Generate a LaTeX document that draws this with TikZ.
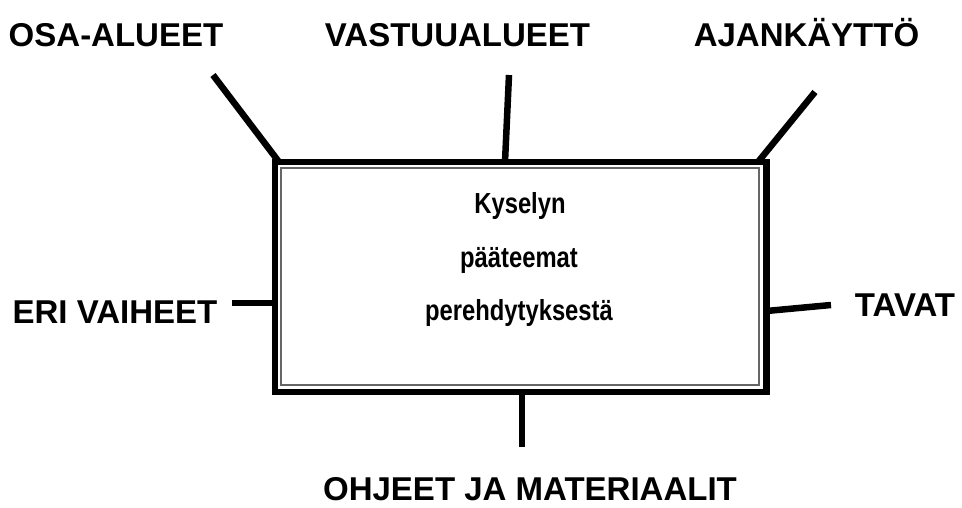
\documentclass[tikz,border=0pt]{standalone}
\usepackage{graphicx}
\usepackage{fontspec}
\setmainfont{Liberation Sans}
\newcommand{\narrowtxt}[1]{\scalebox{0.82}[1]{#1}}
\begin{document}
\begin{tikzpicture}[x=1pt,y=1pt,
  lbl/.style={anchor=base,inner sep=0pt,font=\bfseries\fontsize{33}{33}\selectfont},
  ctr/.style={anchor=base,inner sep=0pt,font=\bfseries\fontsize{29}{29}\selectfont},
  conn/.style={line width=6.5pt,black},
  mainbox/.style={draw,line width=6.5pt,rectangle,inner sep=0pt,outer sep=0pt,
    minimum width=491.5pt,minimum height=230pt}]
\useasboundingbox (0,0) rectangle (962,507);
% main box
\node[mainbox] (box) at (520.75,230) {};
\draw[line width=2pt,black!60] ([shift={(6,-6)}]box.north west) rectangle ([shift={(-7.5,7.5)}]box.south east);
% centre text
\node[ctr] (t1) at (520,293) {\narrowtxt{Kyselyn}};
\node[ctr] (t2) at (519,240) {\narrowtxt{pääteemat}};
\node[ctr] (t3) at (519,187) {\narrowtxt{perehdytyksestä}};
% labels
\node[lbl] (osa) at (116,460) {OSA-ALUEET};
\node[lbl] (vas) at (457.5,460) {VASTUUALUEET};
\node[lbl] (aja) at (806.5,460) {AJANKÄYTTÖ};
\node[lbl] (eri) at (115,184) {ERI VAIHEET};
\node[lbl] (tav) at (905,190) {TAVAT};
\node[lbl] (ohj) at (530,7) {OHJEET JA MATERIAALIT};
% connector free ends
\coordinate (c1) at (213,432);
\coordinate (c2) at (509,432);
\coordinate (c3) at (815,415);
\coordinate (c4) at (232,204);
\coordinate (c5) at (831,202);
\coordinate (c6) at (522,60);
% connectors
\draw[conn] (c1) -- ([shift={(4,0)}]box.north west);
\draw[conn] (c2) -- ([shift={(-15.75,0)}]box.north);
\draw[conn] (c3) -- ([shift={(-8.5,0)}]box.north east);
\draw[conn] (c4) -- (box.west |- c4);
\draw[conn] (c5) -- ([shift={(0,-34)}]box.east);
\draw[conn] (c6) -- (box.south -| c6);
\end{tikzpicture}
\end{document}
